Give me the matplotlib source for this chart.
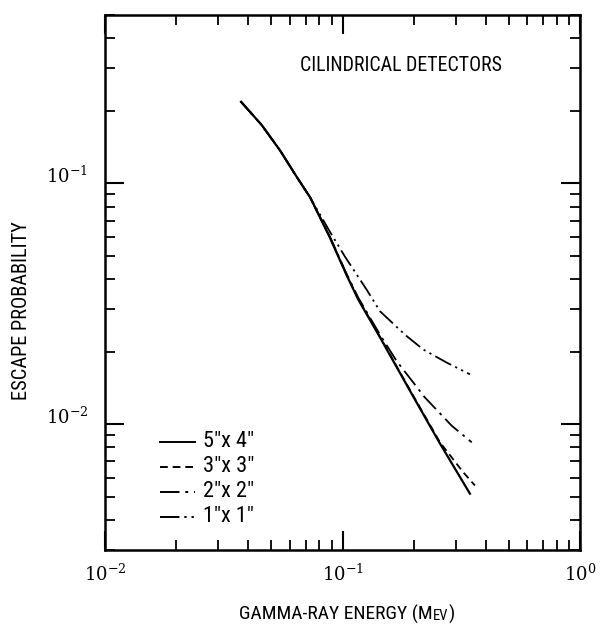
import matplotlib
matplotlib.use("Agg")
import matplotlib.pyplot as plt
from matplotlib import font_manager as fm

# escape probability vs gamma-ray energy
x_5x4 = [0.0374, 0.0457, 0.0546, 0.0642, 0.0730, 0.0885, 0.1041, 0.1165, 0.1439, 0.1986, 0.2573, 0.344]
y_5x4 = [0.218, 0.1745, 0.1368, 0.1062, 0.0875, 0.0595, 0.0415, 0.0329, 0.0229, 0.0130, 0.0083, 0.00514]

x_3x3 = [0.0374, 0.0457, 0.0546, 0.0642, 0.0730, 0.0885, 0.1041, 0.1165, 0.1439, 0.1986, 0.2573, 0.3214, 0.361]
y_3x3 = [0.218, 0.1745, 0.1368, 0.1062, 0.0875, 0.0597, 0.0417, 0.0331, 0.0230, 0.0131, 0.0084, 0.00633, 0.00556]

x_2x2 = [0.0374, 0.0457, 0.0546, 0.0642, 0.0730, 0.0885, 0.1041, 0.1165, 0.1439, 0.169, 0.2224, 0.2884, 0.350]
y_2x2 = [0.218, 0.1745, 0.1368, 0.1062, 0.0875, 0.0600, 0.0420, 0.0335, 0.0235, 0.01827, 0.01289, 0.00984, 0.0084]

x_1x1 = [0.0374, 0.0457, 0.0546, 0.0642, 0.0730, 0.0885, 0.1024, 0.1265, 0.1439, 0.1833, 0.2188, 0.2747, 0.344]
y_1x1 = [0.218, 0.1745, 0.1368, 0.1062, 0.0875, 0.0629, 0.0496, 0.0361, 0.0294, 0.0235, 0.0204, 0.0180, 0.0161]

labels = ['5"x 4"', '3"x 3"', '2"x 2"', '1"x 1"']


def pick_font():
    names = {f.name for f in fm.fontManager.ttflist}
    for want in ['Liberation Sans Narrow', 'DejaVu Sans Condensed', 'Roboto Condensed',
                 'Noto Sans Condensed', 'Open Sans Condensed']:
        if want in names:
            return fm.FontProperties(family=want)
    for f in fm.fontManager.ttflist:
        fn = f.fname.lower()
        if ('narrow' in fn or 'condensed' in fn) and not any(
                k in fn for k in ['bold', 'italic', 'oblique', 'light', 'thin', 'black', 'medium', 'semi', 'extra']):
            return fm.FontProperties(fname=f.fname)
    return fm.FontProperties(family='DejaVu Sans')


fp = pick_font()
plt.rcParams['mathtext.fontset'] = 'dejavuserif'

fig = plt.figure(figsize=(6, 6.27), dpi=100)
ax = fig.add_axes([0.175, 0.1228, 0.7917, 0.8533])

ax.plot(x_5x4, y_5x4, color='black', lw=1.6, ls='-', label=labels[0])
ax.plot(x_3x3, y_3x3, color='black', lw=1.3, ls=(0, (4, 2.5)), label=labels[1])
ax.plot(x_2x2, y_2x2, color='black', lw=1.3, ls=(0, (10, 3, 1.5, 3)), label=labels[2])
ax.plot(x_1x1, y_1x1, color='black', lw=1.3, ls=(0, (10, 2.5, 1.2, 2.5, 1.2, 2.5)), label=labels[3])

ax.set_xscale('log')
ax.set_yscale('log')
ax.set_xlim(0.01, 1.0)
ax.set_ylim(0.003, 0.5)

ax.set_xticks([0.01, 0.1, 1.0])
ax.set_xticklabels([r'$10^{-2}$', r'$10^{-1}$', r'$10^{0}$'])
ax.set_yticks([0.01, 0.1])
ax.set_yticklabels([r'$10^{-2}$', r'$10^{-1}$'])

ax.tick_params(which='both', direction='in', top=True, right=True, color='black')
ax.tick_params(which='major', length=14, width=1.5, labelsize=13, pad=10)
ax.tick_params(axis='y', which='major', pad=12)
ax.tick_params(which='minor', length=7.5, width=1.3)
for lab in ax.get_yticklabels():
    lab.set_va('baseline')
for s in ax.spines.values():
    s.set_linewidth(1.8)

ax.text(0.623, 0.906, 'CILINDRICAL DETECTORS', transform=ax.transAxes,
        fontproperties=fp, fontsize=14.3, ha='center', va='center')

leg = ax.legend(loc='upper left', bbox_to_anchor=(0.116, 0.222), frameon=False,
                borderpad=0, borderaxespad=0, handlelength=2.5, handletextpad=0.6,
                labelspacing=0.28, prop=fp)
for t in leg.get_texts():
    t.set_fontsize(16)
for ln in leg.get_lines():
    ln.set_linewidth(1.4)

fig.text(22 / 600, 1 - 311 / 627, 'ESCAPE PROBABILITY', rotation=90,
         fontproperties=fp, fontsize=14.7, ha='center', va='center')

# x label with small caps "MeV"
r = fig.canvas.get_renderer()
parts = [('GAMMA-RAY ENERGY (M', 14), ('EV', 10.5), (')', 14)]
texts = [fig.text(0, 1 - 620 / 627, s, fontproperties=fp, fontsize=sz, va='baseline', ha='left')
         for s, sz in parts]
widths = [t.get_window_extent(r).width for t in texts]
xpos = 346.7 - sum(widths) / 2
for t, w in zip(texts, widths):
    t.set_x(xpos / 600)
    xpos += w

fig.savefig('out.png', dpi=100)
